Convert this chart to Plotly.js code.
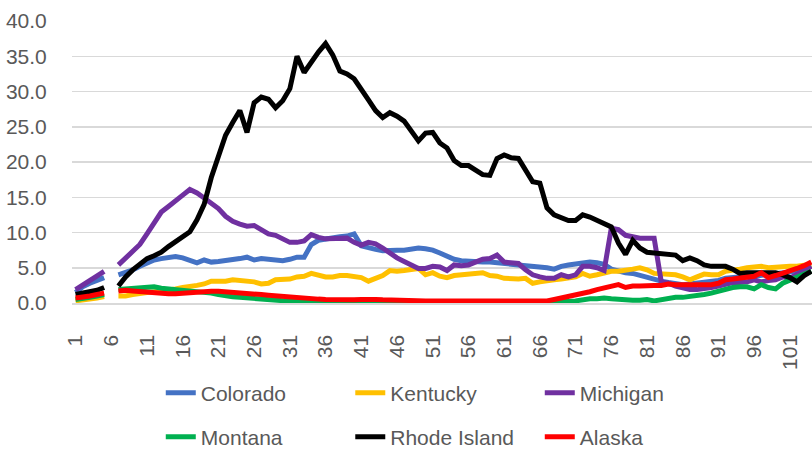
<!DOCTYPE html>
<html>
<head>
<meta charset="utf-8">
<script src="https://cdn.plot.ly/plotly-3.0.1.min.js"></script>
<style>html,body{margin:0;padding:0;background:#fff;}#chart{width:812px;height:451px;}</style>
</head>
<body>
<div id="chart"></div>
<script>
// x categories 1..104 (value at 6 is missing in every series)
const xValues = Array.from({length: 104}, (_, i) => i + 1);
const tickValues = [1, 6, 11, 16, 21, 26, 31, 36, 41, 46, 51, 56, 61, 66, 71, 76, 81, 86, 91, 96, 101];
const tickLabels = ["1","6","11","16","21","26","31","36","41","46","51","56","61","66","71","76","81","86","91","96","101"];

const seriesNames = ["Colorado", "Kentucky", "Michigan", "Montana", "Rhode Island", "Alaska"];
const seriesColors = ["#4472C4", "#FFC000", "#7030A0", "#00B050", "#000000", "#FF0000"];

const colorado = [1.5,2.3,2.8,3.2,3.6,null,4.0,4.3,4.7,5.2,5.6,6.1,6.3,6.5,6.6,6.4,6.1,5.7,6.1,5.8,
  5.9,6.0,6.2,6.3,6.5,6.1,6.3,6.2,6.0,6.0,6.2,6.5,6.5,8.3,8.9,9.1,9.2,9.4,9.5,9.8,
  8.1,7.8,7.6,7.4,7.5,7.5,7.5,7.6,7.8,7.7,7.5,7.1,6.6,6.2,6.0,5.9,5.8,5.8,5.8,5.7,
  5.7,5.5,5.4,5.4,5.2,5.2,5.0,4.8,5.2,5.4,5.5,5.7,5.8,5.7,5.5,4.8,4.5,4.3,4.2,3.9,
  3.6,3.3,3.1,2.9,2.8,2.6,2.7,2.8,2.9,3.1,3.2,3.5,3.6,3.8,3.8,3.8,3.9,4.1,4.1,4.2,
  4.4,4.6,4.9,5.3];
const kentucky = [0.3,0.4,0.5,0.7,0.9,null,1.0,1.0,1.2,1.4,1.5,1.6,1.7,1.8,2.0,2.2,2.3,2.5,2.7,3.1,
  3.1,3.1,3.3,3.2,3.1,3.0,2.7,2.8,3.3,3.3,3.4,3.7,3.8,4.2,4.0,3.7,3.7,3.9,3.9,3.8,
  3.6,3.1,3.5,3.9,4.6,4.5,4.6,4.7,4.9,4.0,4.3,3.8,3.6,3.9,4.0,4.2,4.2,4.3,3.9,3.8,
  3.5,3.4,3.4,3.5,2.8,3.0,3.2,3.3,3.4,3.5,3.7,4.2,3.8,4.0,4.2,4.5,4.5,4.6,4.8,5.0,
  4.7,4.2,4.1,4.1,4.0,3.7,3.3,3.7,4.1,4.0,4.0,4.5,4.6,4.8,5.0,5.1,5.2,5.0,5.1,5.1,
  5.2,5.2,5.3,5.5];
const michigan = [1.9,2.6,3.3,3.8,4.5,null,5.4,6.4,7.3,8.3,9.8,11.4,12.9,13.7,14.6,15.3,16.1,15.6,14.9,14.1,
  13.4,12.3,11.6,11.2,10.9,11.0,10.3,9.8,9.6,9.0,8.6,8.6,8.8,9.7,9.3,9.1,9.1,9.2,9.2,8.6,
  8.2,8.6,8.4,7.8,7.0,6.4,5.9,5.4,4.9,4.9,5.2,5.1,4.6,5.4,5.3,5.4,5.8,6.2,6.3,6.8,
  5.8,5.7,5.6,4.7,4.0,3.7,3.5,3.5,4.0,3.7,4.0,5.2,5.2,5.0,4.6,10.6,10.4,9.6,9.4,9.2,
  9.2,9.2,3.0,2.8,2.4,2.1,1.9,1.9,2.0,2.2,2.4,2.7,2.9,2.9,3.0,3.3,3.0,3.2,3.3,3.7,
  3.5,4.1,4.6,5.2];
const montana = [0.5,0.6,0.8,1.0,1.2,null,1.9,2.0,2.1,2.2,2.3,2.3,2.1,2.0,2.0,1.9,1.8,1.6,1.5,1.4,
  1.2,1.0,0.9,0.8,0.7,0.6,0.5,0.4,0.35,0.3,0.25,0.2,0.2,0.15,0.15,0.1,0.1,0.1,0.1,0.1,
  0.1,0.1,0.1,0.1,0.1,0.1,0.1,0.1,0.1,0.1,0.1,0.1,0.1,0.1,0.1,0.1,0.1,0.1,0.1,0.1,
  0.1,0.1,0.1,0.1,0.1,0.1,0.1,0.1,0.1,0.2,0.3,0.5,0.6,0.6,0.7,0.6,0.5,0.4,0.4,0.4,
  0.5,0.3,0.5,0.7,0.8,0.8,0.9,1.0,1.2,1.4,1.7,2.0,2.2,2.3,2.3,2.0,2.6,2.2,2.0,2.8,
  3.3,3.7,4.1,4.5];
const rhodeIsland = [1.2,1.4,1.5,1.8,2.2,null,2.4,3.7,4.7,5.6,6.3,6.7,7.2,8.0,8.7,9.3,10.1,11.8,14.0,17.8,
  21.0,23.8,25.6,27.3,24.2,28.4,29.2,28.9,27.7,28.7,30.4,35.0,32.7,34.2,35.6,36.8,35.2,32.9,32.5,31.8,
  30.4,28.8,27.3,26.3,27.0,26.5,25.8,24.5,23.0,24.1,24.2,22.7,22.0,20.2,19.5,19.5,18.9,18.2,18.1,20.5,
  21.0,20.6,20.5,18.9,17.2,17.0,13.5,12.5,12.1,11.7,11.7,12.5,12.2,11.7,11.2,10.8,8.5,6.9,8.9,7.8,
  7.2,7.1,6.9,6.8,6.8,6.0,6.4,6.0,5.4,5.2,5.2,5.2,4.8,4.2,4.3,4.3,4.2,4.3,4.3,4.0,
  3.6,3.0,3.9,4.5];
const alaska = [0.7,0.8,1.0,1.2,1.4,null,1.7,1.8,1.7,1.6,1.55,1.45,1.35,1.3,1.3,1.4,1.5,1.55,1.6,1.65,
  1.65,1.6,1.5,1.35,1.3,1.25,1.2,1.1,1.0,0.9,0.85,0.8,0.75,0.65,0.55,0.5,0.45,0.45,0.4,0.45,
  0.5,0.55,0.5,0.45,0.4,0.35,0.35,0.3,0.3,0.3,0.3,0.3,0.3,0.3,0.3,0.3,0.35,0.35,0.35,0.35,
  0.3,0.3,0.25,0.25,0.25,0.25,0.3,0.5,0.7,0.9,1.2,1.4,1.6,1.9,2.1,2.4,2.6,2.2,2.4,2.4,
  2.5,2.5,2.5,2.7,2.6,2.6,2.6,2.6,2.6,2.6,2.8,3.3,3.4,3.5,3.7,3.8,4.3,3.6,3.9,4.2,
  4.5,4.9,5.3,5.8];

const seriesValues = [colorado, kentucky, michigan, montana, rhodeIsland, alaska];

const FONT = "'Liberation Sans', Arial, sans-serif";
const GREY = "#595959";

const traces = seriesNames.map((name, i) => ({
  type: "scatter",
  mode: "lines",
  name: name,
  x: xValues,
  y: seriesValues[i],
  connectgaps: false,
  line: {color: seriesColors[i], width: 5},
  legend: i < 3 ? "legend" : "legend2",
  hoverinfo: "skip"
}));

const legendCommon = {
  orientation: "h",
  xref: "container", yref: "container",
  xanchor: "left", yanchor: "middle",
  entrywidth: 144.5, entrywidthmode: "pixels",
  font: {family: FONT, size: 21, color: GREY},
  bgcolor: "rgba(0,0,0,0)",
  itemclick: false, itemdoubleclick: false
};

const layout = {
  width: 812, height: 451,
  margin: {l: 72, r: 0, t: 21, b: 148, pad: 0},
  paper_bgcolor: "#ffffff",
  plot_bgcolor: "#ffffff",
  showlegend: true,
  legend: Object.assign({}, legendCommon, {x: 0.198, y: 1 - 393 / 451}),
  legend2: Object.assign({}, legendCommon, {x: 0.198, y: 1 - 437 / 451}),
  xaxis: {
    range: [0.5, 104.1],
    tickmode: "array",
    tickvals: tickValues,
    ticktext: tickLabels,
    tickangle: -90,
    ticks: "outside", ticklen: 22, tickcolor: "rgba(0,0,0,0)",
    showgrid: false,
    zeroline: false,
    showline: true, linecolor: "#d9d9d9", linewidth: 1.5,
    tickfont: {family: FONT, size: 21, color: GREY},
    fixedrange: true
  },
  yaxis: {
    range: [0, 40],
    dtick: 5, tick0: 0,
    tickformat: ".1f",
    ticks: "outside", ticklen: 20, tickcolor: "rgba(0,0,0,0)",
    showgrid: true, gridcolor: "#d9d9d9", gridwidth: 1.5,
    zeroline: false,
    showline: false,
    tickfont: {family: FONT, size: 21, color: GREY},
    fixedrange: true
  }
};

Plotly.newPlot("chart", traces, layout, {displayModeBar: false, staticPlot: true});
</script>
</body>
</html>
